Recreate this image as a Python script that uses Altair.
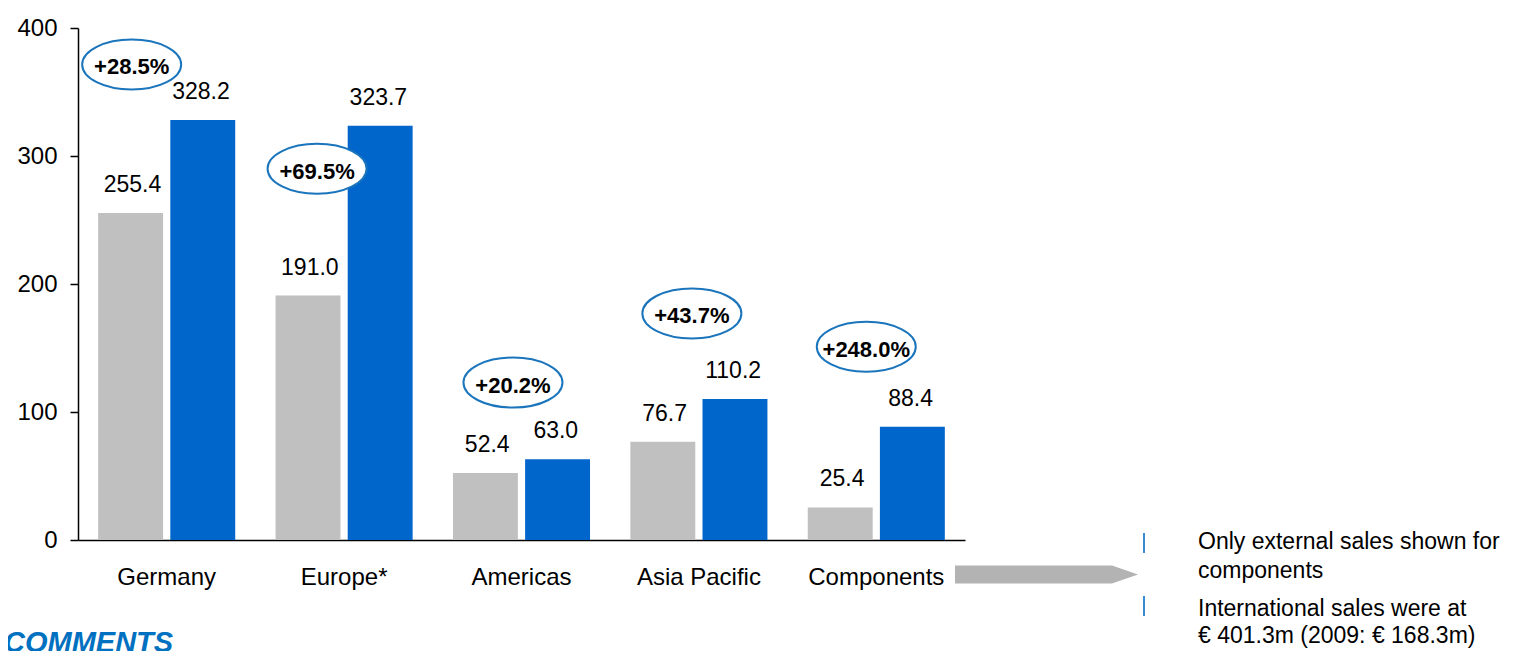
import altair as alt
import pandas as pd

# ---------------- data ----------------
regions = ["Germany", "Europe*", "Americas", "Asia Pacific", "Components"]
years = ["2009", "2010"]
sales_2009 = [255.4, 191.0, 52.4, 76.7, 25.4]
sales_2010 = [328.2, 323.7, 63.0, 110.2, 88.4]
y_ticks = [0, 100, 200, 300, 400]

comment_lines_1 = ["Only external sales shown for", "components"]
comment_lines_2 = ["International sales were at", "€ 401.3m (2009: € 168.3m)"]
comments_title = "COMMENTS"

# annotation layout for the growth bubbles
# (y in data units, dx in px from the left edge of each category's bar group)
bubble_y = [371.5, 290, 123, 177, 151]
bubble_dx = [33.5, 41.5, 60, 61.5, 58.5]

FONT = "Liberation Sans"

rows = []
for r, a, b in zip(regions, sales_2009, sales_2010):
    rows.append({"Region": r, "Year": years[0], "Sales": a})
    rows.append({"Region": r, "Year": years[1], "Sales": b})
bars_df = pd.DataFrame(rows)

growth_df = pd.DataFrame({
    "Region": regions,
    "Growth": [f"+{(b / a - 1) * 100:.1f}%" for a, b in zip(sales_2009, sales_2010)],
    "Y": bubble_y,
    "DX": bubble_dx,
})

one = pd.DataFrame({"k": [0]})

x_enc = alt.X(
    "Region:N", sort=regions,
    scale=alt.Scale(paddingInner=0.2274, paddingOuter=0.1137),
    axis=alt.Axis(title=None, labelAngle=0, ticks=False, tickSize=0,
                  labelPadding=44, labelBaseline="alphabetic",
                  labelFontSize=24, labelFont=FONT, labelColor="black",
                  domainColor="black", domainWidth=1.5),
)
y_enc = alt.Y(
    "Sales:Q",
    scale=alt.Scale(domain=[0, 400], nice=False),
    axis=alt.Axis(values=y_ticks, title=None, grid=False, tickSize=8,
                  tickColor="black", tickWidth=1.5, domainColor="black",
                  domainWidth=1.5, labelPadding=13, labelFontSize=24,
                  labelFont=FONT, labelColor="black"),
)
xo_enc = alt.XOffset("Year:N", sort=years,
                     scale=alt.Scale(paddingInner=0.1, paddingOuter=0))
color_enc = alt.Color("Year:N", scale=alt.Scale(domain=years, range=["#c0c0c0", "#0066cc"]),
                      legend=None)

bars = alt.Chart(bars_df).mark_bar().encode(x=x_enc, xOffset=xo_enc, y=y_enc, color=color_enc)

values = alt.Chart(bars_df).mark_text(
    dy=-21, baseline="alphabetic", fontSize=23, font=FONT, color="black"
).encode(x=alt.X("Region:N", sort=regions), xOffset=alt.XOffset("Year:N", sort=years),
         y="Sales:Q", text=alt.Text("Sales:Q", format=".1f"))

ELLIPSE = "M-1,0 A1,0.505 0 1,1 1,0 A1,0.505 0 1,1 -1,0 Z"
bubbles = alt.Chart(growth_df).mark_point(
    shape=ELLIPSE, size=9801, filled=True, fill="white", stroke="#1a75bc",
    strokeWidth=2, opacity=1
).encode(x=alt.X("Region:N", sort=regions), xOffset=alt.XOffset("DX:Q", scale=None),
         y=alt.Y("Y:Q"))

growth_text = alt.Chart(growth_df).mark_text(
    fontSize=22, fontWeight="bold", font=FONT, color="black", baseline="middle", dy=3
).encode(x=alt.X("Region:N", sort=regions), xOffset=alt.XOffset("DX:Q", scale=None),
         y=alt.Y("Y:Q"), text="Growth:N")

ARROW = "M-1,-0.0984 L0.716,-0.0984 L1,0 L0.716,0.0984 L-1,0.0984 Z"
arrow = alt.Chart(one).mark_point(
    shape=ARROW, size=33489, filled=True, fill="#b3b3b3", strokeWidth=0, opacity=1
).encode(x=alt.value(968.5), y=alt.value(546.5))

rule1 = alt.Chart(one).mark_rule(color="#3a8ad4", strokeWidth=2).encode(
    x=alt.value(1066), y=alt.value(505), y2=alt.value(525))
rule2 = alt.Chart(one).mark_rule(color="#3a8ad4", strokeWidth=2).encode(
    x=alt.value(1066), y=alt.value(568), y2=alt.value(588))

note1 = alt.Chart(one).mark_text(
    align="left", baseline="alphabetic", fontSize=23, font=FONT, lineHeight=29, color="black"
).encode(x=alt.value(1120), y=alt.value(521), text=alt.value(comment_lines_1))
note2 = alt.Chart(one).mark_text(
    align="left", baseline="alphabetic", fontSize=23, font=FONT, lineHeight=27, color="black"
).encode(x=alt.value(1120), y=alt.value(588), text=alt.value(comment_lines_2))

title_txt = alt.Chart(one).mark_text(
    align="left", baseline="alphabetic", fontSize=29, font=FONT, fontWeight="bold",
    fontStyle="italic", color="#0070c0"
).encode(x=alt.value(-74), y=alt.value(624), text=alt.value(comments_title))

chart = alt.layer(
    bars, values, bubbles, growth_text, arrow, rule1, rule2, note1, note2, title_txt
).resolve_scale(xOffset="independent").properties(
    width=887, height=512,
    autosize=alt.AutoSizeParams(type="none"),
    padding={"left": 70, "top": 20, "right": 543, "bottom": 111},
    background="white",
).configure_view(stroke=None)

chart.save("out.html", embed_options={"renderer": "svg", "actions": False})
